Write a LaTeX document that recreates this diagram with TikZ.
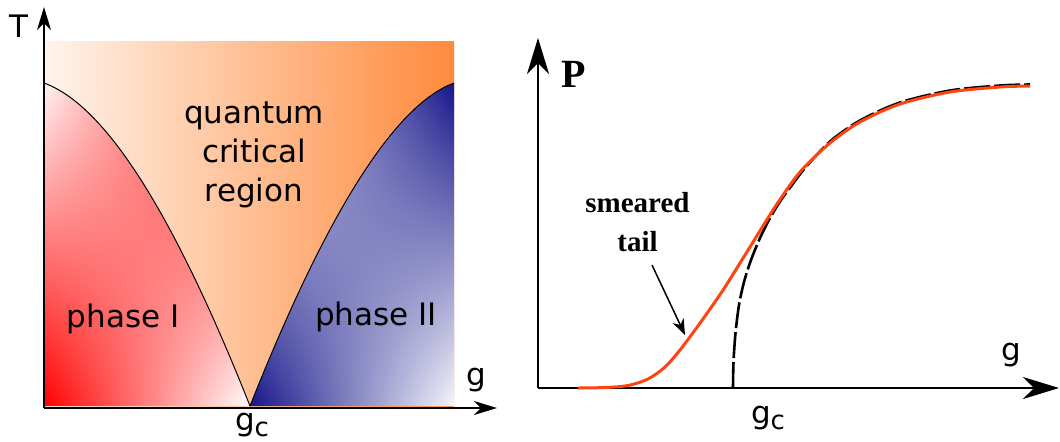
\documentclass[tikz,border=0pt]{standalone}
\usepackage{fontspec}
\usetikzlibrary{arrows.meta,shadings}
\newfontfamily\dvsans{DejaVu Sans}
\newfontfamily\lserif{Liberation Serif}
\definecolor{bgL}{HTML}{FFF4EC}
\definecolor{bgR}{HTML}{FF8A3C}
\definecolor{redA}{HTML}{FF0000}
\definecolor{redU}{HTML}{FFF4F4}
\definecolor{navyA}{HTML}{14148A}
\definecolor{lav}{HTML}{F6F6FB}
\definecolor{curveor}{HTML}{FF4411}
\begin{document}
\begin{tikzpicture}[x=0.5pt,y=-0.5pt,
  lbl/.style={font=\dvsans\fontsize{15.5}{19.5}\selectfont, inner sep=0pt, anchor=base},
  serlbl/.style={font=\lserif\bfseries\fontsize{14.5}{14.5}\selectfont, inner sep=0pt, anchor=base},
  bound/.style={black, line width=0.5pt},
  axL/.style={black, line width=0.7pt, -{Stealth[length=11.5pt,width=7pt,inset=3.5pt]}},
  axR/.style={black, line width=0.9pt, -{Stealth[length=18pt,width=11pt,inset=5.5pt]}},
  annot/.style={black, line width=0.75pt, -{Stealth[length=8pt,width=6pt,inset=2.5pt]}},
  smear/.style={curveor, line width=1.5pt},
  meanf/.style={black, line width=1.3pt, dash pattern=on 13pt off 2pt}]
\useasboundingbox (0,0) rectangle (1060,441);

% ---------- left panel ----------
\shade[left color=bgL, right color=bgR] (44,41) rectangle (454,406);
\shade[upper left=redU, upper right=redA, lower left=redA, lower right=white]
  (44,83) .. controls (108,106) and (177,222) .. (250,406) -- (44,406) -- cycle;
\shade[upper left=lav, upper right=navyA, lower left=navyA, lower right=lav]
  (250,406) .. controls (323,222) and (392,106) .. (454,83) -- (454,406) -- cycle;
\draw[bound] (44,83) .. controls (108,106) and (177,222) .. (250,406);
\draw[bound] (250,406) .. controls (323,222) and (392,106) .. (454,83);

\coordinate (oL) at (44,408);
\coordinate (yL) at (44,7);
\coordinate (xL) at (497,408);
\draw[axL] (oL) -- (yL);
\draw[axL] (oL) -- (xL);

\node[lbl] (T) at (18.5,37) {T};
\node[lbl] (gL) at (476,385) {g};
\node[lbl] (gcL) at (252,430) {g\raisebox{-0.2em}{\fontsize{13}{13}\selectfont c}};
\node[lbl] (q1) at (254,123) {quantum};
\node[lbl] (q2) at (254,162) {critical};
\node[lbl] (q3) at (254,201) {region};
\node[lbl] (ph1) at (123,327) {phase I};
\node[lbl] (ph2) at (376,325) {phase II};

% ---------- right panel ----------
\coordinate (oR) at (538,388);
\coordinate (yR) at (538,38);
\coordinate (xR) at (1059,388);
\draw[axR] (oR) -- (yR);
\draw[axR] (oR) -- (xR);

\draw[meanf] plot[smooth, tension=0.5] coordinates {(733,388) (733.5,362) (735.5,333) (739,305) (744,282) (751,260) (760,238) (770,218) (781,200) (792,185) (805,168) (830,141.5) (860,120.5) (900,102.5) (950,90.5) (1000,85.5) (1030,84.5)};
\draw[smear] plot[smooth, tension=0.5] coordinates {(578,388) (605,387.5) (628,385.5) (648,379) (665,367) (680,350) (695,330) (710,309) (725,287) (750,247) (775,207) (800,172) (830,143) (860,122) (900,104) (950,92) (1000,87) (1030,86)};

\node[font=\lserif\bfseries\fontsize{20}{20}\selectfont, inner sep=0pt, anchor=base] (P) at (574,87) {P};
\node[lbl] (gR) at (1011,360) {g};
\node[lbl] (gcR) at (768,423) {g\raisebox{-0.2em}{\fontsize{13}{13}\selectfont c}};
\node[serlbl] (sm1) at (637.5,212) {smeared};
\node[serlbl] (sm2) at (637.5,251) {tail};
\coordinate (tailA) at (652,265);
\coordinate (tailB) at (685,335);
\draw[annot] (tailA) -- (tailB);
\end{tikzpicture}
\end{document}
